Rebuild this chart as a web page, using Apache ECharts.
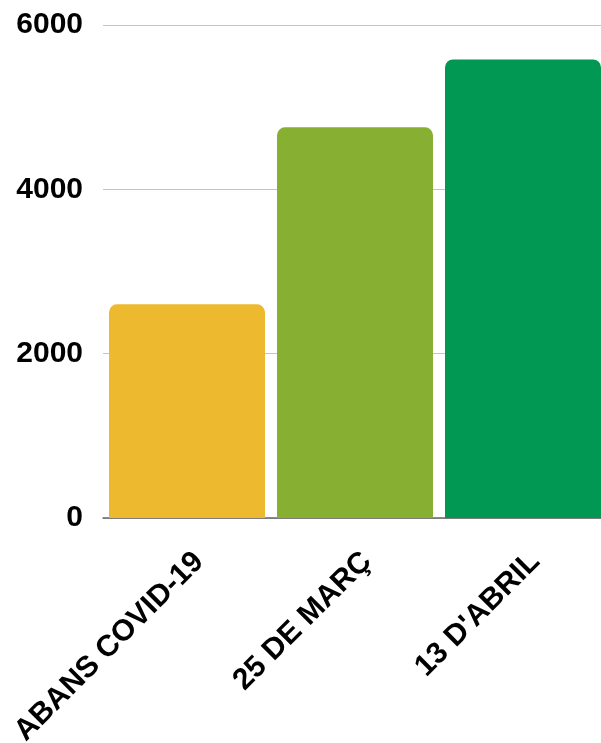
<!DOCTYPE html>
<html>
<head>
<meta charset="utf-8">
<script src="https://cdn.jsdelivr.net/npm/echarts@6/dist/echarts.min.js"></script>
<style>
html,body{margin:0;padding:0;background:#fff;}
#chart{width:601px;height:743px;}
</style>
</head>
<body>
<div id="chart"></div>
<script>
const categories = ["ABANS COVID-19", "25 DE MARÇ", "13 D'ABRIL"];
const values = [2600, 4755, 5580];
const barColors = ["#EDB92E", "#87B033", "#009852"];
const yTicks = [0, 2000, 4000, 6000];

const chart = echarts.init(document.getElementById('chart'), null, {renderer: 'canvas'});
chart.setOption({
  animation: false,
  backgroundColor: '#ffffff',
  grid: {left: 103, width: 504, top: 25, bottom: 225, containLabel: false, outerBoundsMode: 'none'},
  xAxis: {
    type: 'category',
    data: categories,
    boundaryGap: true,
    axisLine: {show: true, lineStyle: {color: '#666666', width: 1.5}},
    axisTick: {show: false},
    axisLabel: {
      interval: 0,
      rotate: 45,
      margin: 27,
      hideOverlap: false,
      formatter: v => '\n' + v,
      lineHeight: 34,
      fontFamily: 'Liberation Sans, Arial, sans-serif',
      fontWeight: 'bold',
      fontSize: 30,
      color: '#000000'
    }
  },
  yAxis: {
    type: 'value',
    min: yTicks[0],
    max: yTicks[yTicks.length - 1],
    interval: yTicks[1] - yTicks[0],
    axisLine: {show: false},
    axisTick: {show: false},
    splitLine: {show: true, lineStyle: {color: '#c4c4c4', width: 1}},
    axisLabel: {
      margin: 20,
      formatter: v => String(v),
      fontFamily: 'Liberation Sans, Arial, sans-serif',
      fontWeight: 'bold',
      fontSize: 30,
      color: '#000000'
    }
  },
  series: [{
    type: 'bar',
    data: values.map((v, i) => ({value: v, itemStyle: {color: barColors[i]}})),
    barWidth: 156,
    itemStyle: {borderRadius: [8, 8, 0, 0]}
  }]
});
</script>
</body>
</html>
